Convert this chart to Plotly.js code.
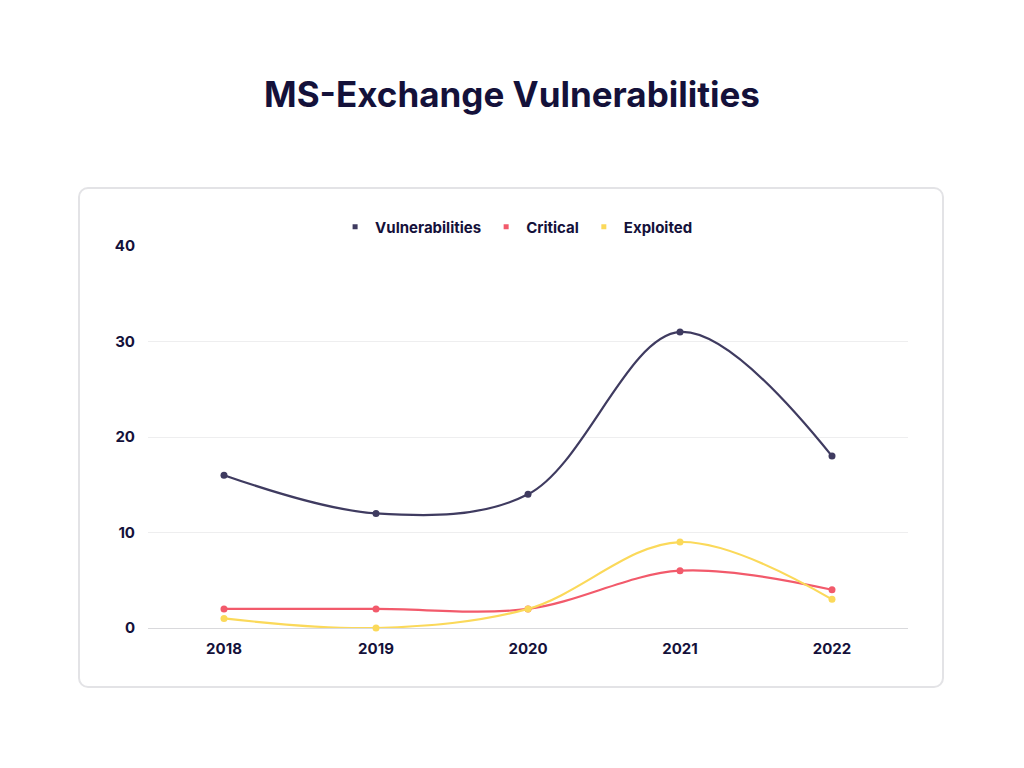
<!DOCTYPE html>
<html>
<head>
<meta charset="utf-8">
<script src="https://cdn.plot.ly/plotly-3.0.1.min.js"></script>
<style>
  html, body { margin: 0; padding: 0; background: #ffffff; }
  #wrap { position: relative; width: 1024px; height: 768px; }
  #card { position: absolute; left: 78px; top: 187px; width: 866px; height: 501px;
          border: 2px solid #e3e3e6; border-radius: 10px; box-sizing: border-box; }
  #chart { position: absolute; left: 0; top: 0; width: 1024px; height: 768px; }
</style>
</head>
<body>
<div id="wrap">
  <div id="card"></div>
  <div id="chart"></div>
</div>
<script>
const years = ['2018', '2019', '2020', '2021', '2022'];
const vulnerabilities = [16, 12, 14, 31, 18];
const critical = [2, 2, 2, 6, 4];
const exploited = [1, 0, 2, 9, 3];
const yTicks = [0, 10, 20, 30, 40];

const series = [
  { name: 'Vulnerabilities', values: vulnerabilities, color: '#3f3b60' },
  { name: 'Critical', values: critical, color: '#f25a6b' },
  { name: 'Exploited', values: exploited, color: '#fbd95a' }
];

const textColor = '#14113a';
const fontFam = 'Inter, "Open Sans", "DejaVu Sans", sans-serif';

const traces = [];
series.forEach(s => {
  traces.push({
    x: years, y: s.values, type: 'scatter', mode: 'lines+markers',
    name: s.name, showlegend: false, cliponaxis: false,
    line: { color: s.color, width: 2.2, shape: 'spline', smoothing: 1 },
    marker: { color: s.color, size: 7 },
    hoverinfo: 'x+y+name'
  });
});
series.forEach(s => {
  traces.push({
    x: [null], y: [null], type: 'scatter', mode: 'markers',
    name: s.name, showlegend: true,
    marker: { color: s.color, size: 5, symbol: 'square' }
  });
});

const layout = {
  width: 1024, height: 768,
  paper_bgcolor: 'rgba(0,0,0,0)', plot_bgcolor: 'rgba(0,0,0,0)',
  margin: { l: 148, r: 116, t: 246, b: 140 },
  title: {
    text: 'MS-Exchange Vulnerabilities',
    font: { family: fontFam, size: 35, color: textColor, weight: 'bold' },
    x: 0.5, xanchor: 'center', xref: 'container',
    y: 0.876, yanchor: 'middle'
  },
  showlegend: true,
  legend: {
    orientation: 'h', x: 0.485, xanchor: 'center',
    y: 1.05, yanchor: 'middle',
    font: { family: fontFam, size: 15, color: textColor, weight: 'bold' },
    itemwidth: 30, tracegroupgap: 0, itemsizing: 'trace'
  },
  xaxis: {
    type: 'category', range: [-0.5, 4.5],
    showgrid: false, zeroline: false, showline: false,
    ticks: '', ticklen: 0, ticklabelstandoff: 10,
    tickfont: { family: fontFam, size: 15, color: textColor, weight: 'bold' },
    fixedrange: true, automargin: false
  },
  yaxis: {
    range: [0, 40], tickvals: yTicks, ticktext: yTicks.map(String),
    showgrid: true, gridcolor: '#eeeeef', gridwidth: 1,
    zeroline: true, zerolinecolor: '#d9d9dc', zerolinewidth: 1,
    showline: false, ticks: '', ticklabelstandoff: 12,
    tickfont: { family: fontFam, size: 15, color: textColor, weight: 'bold' },
    fixedrange: true, automargin: false
  }
};

Plotly.newPlot('chart', traces, layout, { displayModeBar: false });
</script>
</body>
</html>
